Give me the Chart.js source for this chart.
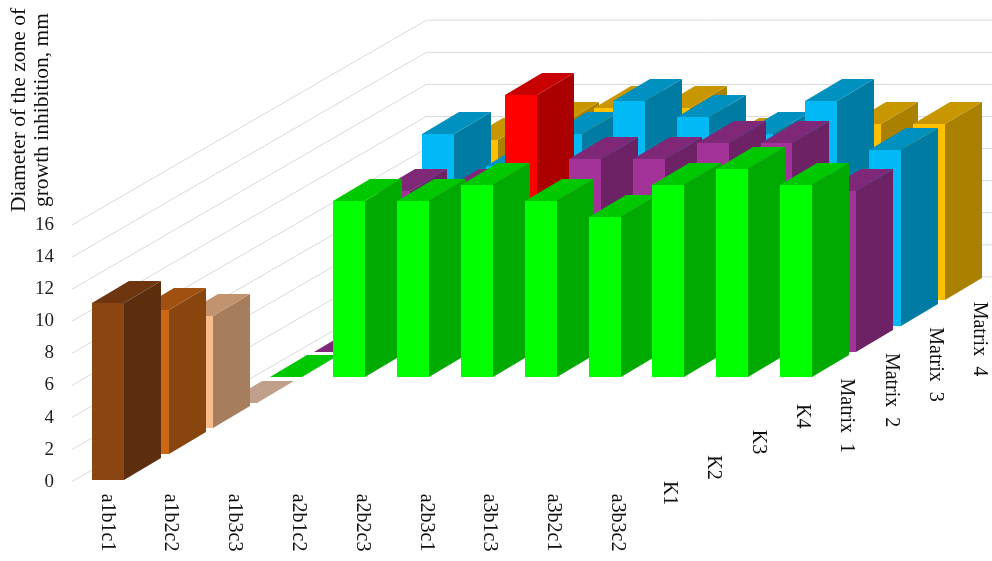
<!DOCTYPE html>
<html>
<head>
<meta charset="utf-8">
<title>Zone of growth inhibition</title>
<script src="https://cdn.jsdelivr.net/npm/chart.js@4/dist/chart.umd.js"></script>
<style>
    html, body { margin: 0; padding: 0; background: #fff; }
    canvas { display: block; }
</style>
</head>
<body>
<canvas id="graph" width="992" height="561"></canvas>
<script>
const categories = ["a1b1c1", "a1b2c2", "a1b3c3", "a2b1c2", "a2b2c3", "a2b3c1", "a3b1c3", "a3b2c1", "a3b3c2"];
const seriesNames = ["K1", "K2", "K3", "K4", "Matrix  1", "Matrix  2", "Matrix  3", "Matrix  4"];
const yTitleLines = ["Diameter of the zone of", "growth inhibition, mm"];

const k1 = [11, null, null, null, null, null, null, null, null];
const k2 = [9, null, null, null, null, null, null, null, null];
const k3 = [7, null, null, null, null, null, null, null, null];
const k4 = [0, null, null, null, null, null, null, null, null];
const matrix1 = [0, 11, 11, 12, 11, 10, 12, 13, 12];
const matrix2 = [0, 10, 10, 16, 12, 12, 13, 13, 10];
const matrix3 = [0, 12, 10, 12, 14, 13, 12, 14, 11];
const matrix4 = [0, 10, 11, 12, 12, 10, 10, 11, 11];
const seriesValues = [k1, k2, k3, k4, matrix1, matrix2, matrix3, matrix4];

const seriesColors = ["#8b4513", "#cc6714", "#f9bc8c", "#f5ccb0", "#00ff00", "#a33399", "#00b9f5", "#ffc000"];
const RED = "#ff0000";

// one step back along the depth axis, in pixels
const DEPTH_DX = 44.3;
const DEPTH_DY = 25.6;
const BAR_DEPTH = 0.84; // share of a depth step the bar fills
const FONT = "'Liberation Serif', 'Times New Roman', serif";

function shade(hex, k) {
    const n = parseInt(hex.slice(1), 16);
    const r = Math.round((n >> 16 & 255) * k);
    const g = Math.round((n >> 8 & 255) * k);
    const b = Math.round((n & 255) * k);
    return `rgb(${r},${g},${b})`;
}

function poly(ctx, color, pts) {
    ctx.fillStyle = color;
    ctx.beginPath();
    pts.forEach((p, i) => i ? ctx.lineTo(p[0], p[1]) : ctx.moveTo(p[0], p[1]));
    ctx.closePath();
    ctx.fill();
}

function drawGrid(chart) {
    const { ctx, scales } = chart;
    const n = seriesNames.length;
    ctx.save();
    ctx.strokeStyle = "#d9d9d9";
    ctx.lineWidth = 1;
    scales.y.ticks.forEach(t => {
        const y = scales.y.getPixelForValue(t.value);
        const x0 = scales.x.left - 1;
        const bx = x0 + n * DEPTH_DX;
        const by = y - n * DEPTH_DY;
        ctx.beginPath();
        ctx.moveTo(x0, y);
        ctx.lineTo(bx, by);
        ctx.lineTo(bx + scales.x.width, by);
        ctx.stroke();
    });
    ctx.restore();
}

// the bar elements keep their scale positions, each row is pushed back by its depth
function drawBars(chart) {
    const ctx = chart.ctx;
    const gap = (1 - BAR_DEPTH) / 2;
    const sideX = DEPTH_DX * BAR_DEPTH;
    const sideY = DEPTH_DY * BAR_DEPTH;
    for (let d = chart.data.datasets.length - 1; d >= 0; d--) {
        const meta = chart.getDatasetMeta(d);
        const colors = chart.data.datasets[d].backgroundColor;
        meta.data.forEach((bar, i) => {
            if (seriesValues[d][i] === null) return;
            const ox = (d + gap) * DEPTH_DX;
            const oy = (d + gap) * DEPTH_DY;
            // whole pixels keep the vertical edges clean
            const l = Math.round(bar.x - bar.width / 2 + ox);
            const r = Math.round(bar.x + bar.width / 2 + ox);
            const t = Math.round(bar.y - oy);
            const b = Math.round(bar.base - oy);
            const bx = r + Math.round(sideX);
            const lx = l + Math.round(sideX);
            const rise = Math.round(sideY);
            poly(ctx, shade(colors[i], 0.667), [[r, t], [bx, t - rise], [bx, b - rise], [r, b]]);
            poly(ctx, shade(colors[i], 0.784), [[l, t], [lx, t - rise], [bx, t - rise], [r, t]]);
            poly(ctx, colors[i], [[l, t], [r, t], [r, b], [l, b]]);
        });
    }
}

function verticalText(ctx, text, x, y, angle) {
    ctx.save();
    ctx.translate(x, y);
    ctx.rotate(angle);
    ctx.fillText(text, 0, 0);
    ctx.restore();
}

function drawLabels(chart) {
    const { ctx, scales } = chart;
    const pad = 12;
    ctx.save();
    ctx.fillStyle = "#111";
    ctx.font = "20px " + FONT;
    ctx.textAlign = "left";
    ctx.textBaseline = "middle";
    categories.forEach((c, i) => {
        verticalText(ctx, c, scales.x.getPixelForValue(i) + 2, scales.y.bottom + pad, Math.PI / 2);
    });
    seriesNames.forEach((s, d) => {
        const x = scales.x.right + (d + 0.5) * DEPTH_DX;
        const y = scales.y.bottom - (d + 0.5) * DEPTH_DY + pad;
        verticalText(ctx, s, x, y, Math.PI / 2);
    });
    // y axis title sits above the tick labels, not centred on the axis
    ctx.font = "21.5px " + FONT;
    ctx.textAlign = "center";
    ctx.textBaseline = "alphabetic";
    verticalText(ctx, yTitleLines[0], 25, 110, -Math.PI / 2);
    verticalText(ctx, yTitleLines[1], 48, 110, -Math.PI / 2);
    ctx.restore();
}

const bars3d = {
    id: "bars3d",
    beforeDatasetsDraw(chart) {
        drawGrid(chart);
        drawBars(chart);
        drawLabels(chart);
        return false;
    }
};

const graph = document.getElementById("graph").getContext("2d");
new Chart(graph, {
    type: "bar",
    data: {
        labels: categories,
        datasets: seriesValues.map((values, d) => ({
            label: seriesNames[d],
            data: values,
            backgroundColor: values.map((v, i) => (d === 5 && i === 3) ? RED : seriesColors[d])
        }))
    },
    options: {
        responsive: false,
        animation: false,
        events: [],
        layout: {
            padding: { top: 225, right: 344.8, bottom: 79.3, left: 0 }
        },
        plugins: {
            legend: { display: false },
            title: { display: false },
            tooltip: { enabled: false }
        },
        datasets: {
            bar: { grouped: false, barPercentage: 0.5, categoryPercentage: 1 }
        },
        scales: {
            x: {
                afterFit(scale) { scale.height = 0; },
                grid: { display: false },
                border: { display: false },
                ticks: { display: false }
            },
            y: {
                min: 0,
                max: 16,
                afterFit(scale) { scale.width = 73; },
                grid: { display: false, drawTicks: false },
                border: { display: false },
                ticks: {
                    stepSize: 2,
                    padding: 19,
                    color: "#222",
                    font: { family: FONT, size: 19 }
                }
            }
        }
    },
    plugins: [bars3d]
});
</script>
</body>
</html>
